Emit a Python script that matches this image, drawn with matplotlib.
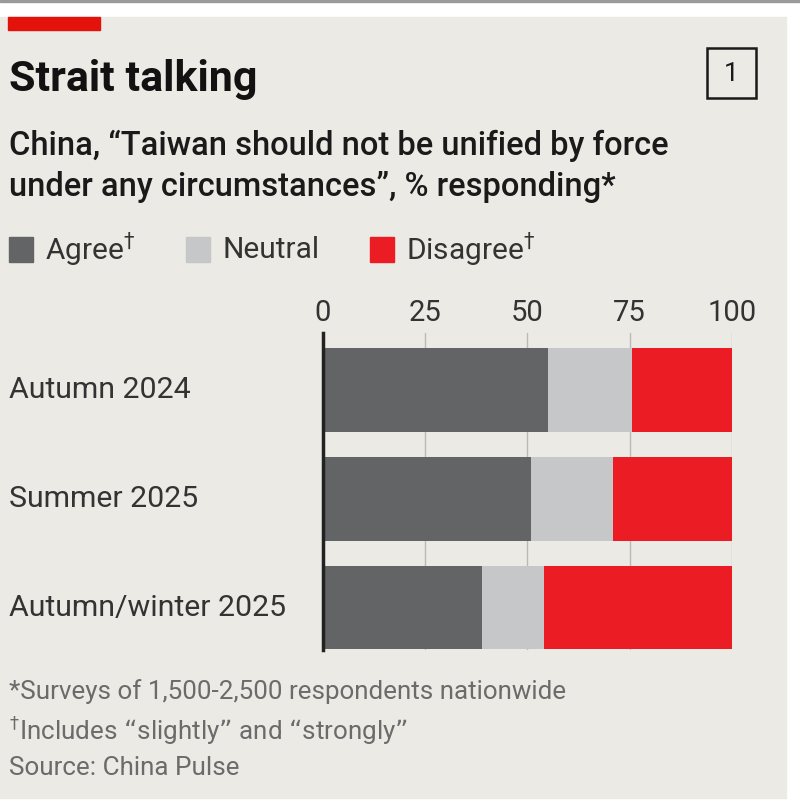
import matplotlib.pyplot as plt
from matplotlib.patches import Rectangle
from matplotlib.transforms import blended_transform_factory

periods = ["Autumn 2024", "Summer 2025", "Autumn/winter 2025"]
agree = [55, 51, 39]
neutral = [20.5, 20, 15]
disagree = [24.5, 29, 46]

series_names = ["Agree", "Neutral", "Disagree"]
series_colors = ["#636466", "#c6c7c9", "#ec1c24"]
ticks = [0, 25, 50, 75, 100]

plt.rcParams['font.family'] = ['Roboto', 'DejaVu Sans']

W, H = 800, 800
fig = plt.figure(figsize=(8, 8), dpi=100, facecolor="white")


def fx(x):
    return x / W


def fy(y):
    return 1 - y / H


# background panel, top rule and red tag
fig.patches.append(Rectangle((0, fy(798)), fx(786), fy(17) - fy(798),
                             transform=fig.transFigure, color="#ebeae4", zorder=-2))
fig.patches.append(Rectangle((0, fy(2)), 1, fy(0) - fy(2),
                             transform=fig.transFigure, color="#9a9a9a", zorder=-2))
fig.patches.append(Rectangle((fx(8), fy(30)), fx(92), fy(17) - fy(30),
                             transform=fig.transFigure, color="#e3120b", zorder=1))

# titles
fig.text(fx(9), fy(80), "Strait talking", fontsize=31, fontweight="bold",
         color="#121212", va="center", ha="left")
fig.text(fx(9), fy(146), "China, \u201cTaiwan should not be unified by force",
         fontsize=23.5, fontweight="medium", color="#1a1a1a", va="center", ha="left")
fig.text(fx(9), fy(187), "under any circumstances\u201d, % responding*",
         fontsize=23.5, fontweight="medium", color="#1a1a1a", va="center", ha="left")

# chart number box
fig.patches.append(Rectangle((fx(707), fy(98)), fx(49), fy(48) - fy(98),
                             transform=fig.transFigure, fill=False,
                             edgecolor="#1a1a1a", linewidth=1.8, zorder=2))
fig.text(fx(731.5), fy(74), "1", fontsize=19, color="#1a1a1a",
         ha="center", va="center")

# legend
leg_x = [9, 186, 370]
for x0, name, col in zip(leg_x, series_names, series_colors):
    fig.patches.append(Rectangle((fx(x0), fy(262)), fx(24), fy(237) - fy(262),
                                 transform=fig.transFigure, color=col, zorder=2))
    label = name + ("$^{\u2020}$" if name != "Neutral" else "")
    fig.text(fx(x0 + 36), fy(250), label, fontsize=21.5, color="#333333",
             ha="left", va="center")

# chart
ax = fig.add_axes([fx(323), fy(650), fx(731.7) - fx(323), fy(333) - fy(650)])
ax.set_facecolor("none")
ypos = list(range(len(periods)))
left = [0] * len(periods)
for vals, col in zip([agree, neutral, disagree], series_colors):
    ax.barh(ypos, vals, left=left, height=0.77, color=col, zorder=2)
    left = [l + v for l, v in zip(left, vals)]

ax.set_xlim(0, 100)
ax.set_ylim(2.39, -0.52)
ax.set_xticks(ticks)
ax.xaxis.tick_top()
ax.tick_params(axis="x", length=0, pad=4, labelsize=21, labelcolor="#333333")
ax.set_yticks([])
for t in ticks[1:]:
    ax.axvline(t, color="#b9b9b6", linewidth=1, zorder=1)
for s in ["top", "right", "bottom"]:
    ax.spines[s].set_visible(False)
ax.spines["left"].set_linewidth(2.5)
ax.spines["left"].set_color("#222222")
ax.spines["left"].set_zorder(3)

label_tf = blended_transform_factory(fig.transFigure, ax.transData)
for y, name in zip(ypos, periods):
    ax.text(fx(9), y, name, transform=label_tf, fontsize=21.8,
            color="#333333", ha="left", va="center")

# footnotes
notes = ["*Surveys of 1,500-2,500 respondents nationwide",
         "$^{\u2020}$Includes \u201cslightly\u201d and \u201cstrongly\u201d",
         "Source: China Pulse"]
for i, line in enumerate(notes):
    fig.text(fx(9), fy(692 + 38 * i), line, fontsize=18.7, color="#6b6b6b",
             ha="left", va="center")

fig.savefig("out.png", dpi=100, facecolor="white")
